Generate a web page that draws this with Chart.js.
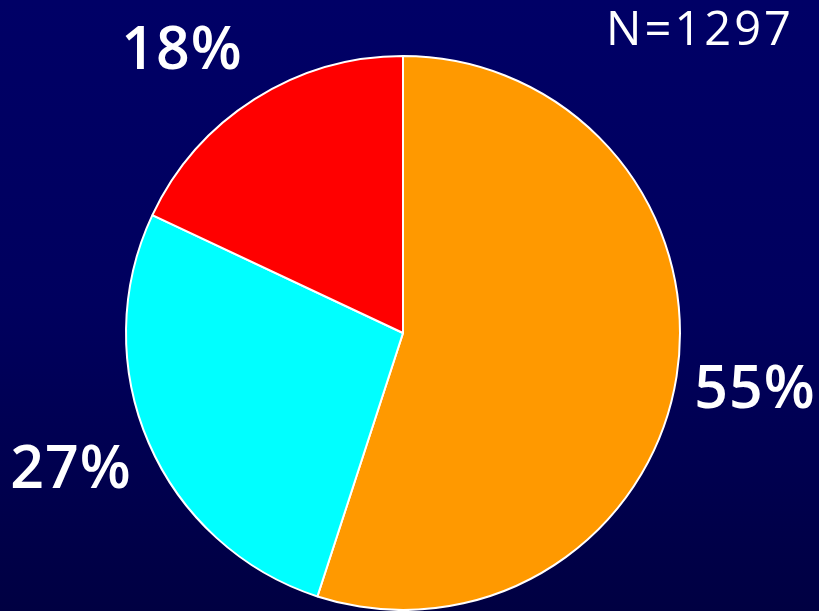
<!DOCTYPE html>
<html lang="en">
<head>
    <meta charset="UTF-8">
    <title>N=1297</title>
    <script src="https://cdn.jsdelivr.net/npm/chart.js"></script>
    <style>
        html, body { margin: 0; padding: 0; }
        body {
            width: 819px; height: 611px; overflow: hidden;
            background: linear-gradient(to bottom, #000066 0%, #00005e 50%, #000042 100%);
        }
        #wrap { position: relative; width: 819px; height: 611px; }
    </style>
</head>
<body>
    <div id="wrap">
        <canvas id="pieChart" width="819" height="611"></canvas>
    </div>

    <script>
        const categories = ['A', 'B', 'C'];
        const values = [55, 27, 18];
        const sliceLabels = ['55%', '27%', '18%'];
        const sliceColors = ['#ff9900', '#00ffff', '#ff0000'];
        const totalLabel = 'N=1297';

        // Etiquetas de porcentaje (posición fija del texto, como en la diapositiva)
        const labelSpots = [[755, 391], [71, 471], [182, 52]];

        const outerLabels = {
            id: 'outerLabels',
            afterDraw(chart) {
                const ctx = chart.ctx;
                ctx.save();
                ctx.fillStyle = '#ffffff';
                ctx.textAlign = 'center';
                ctx.textBaseline = 'middle';
                ctx.font = '600 59px "Open Sans"';
                ctx.letterSpacing = '1px';
                sliceLabels.forEach((txt, i) => {
                    ctx.fillText(txt, labelSpots[i][0], labelSpots[i][1]);
                });
                ctx.font = '400 47px "Open Sans"';
                ctx.letterSpacing = '3px';
                ctx.fillText(totalLabel, 700, 32);
                ctx.restore();
            }
        };

        new Chart(document.getElementById('pieChart').getContext('2d'), {
            type: 'pie',
            data: {
                labels: categories,
                datasets: [{
                    data: values,
                    backgroundColor: sliceColors,
                    borderColor: '#ffffff',
                    borderWidth: 2
                }]
            },
            options: {
                responsive: false,
                animation: false,
                layout: { padding: { top: 55, bottom: 0, left: 0, right: 13 } },
                plugins: {
                    legend: { display: false },
                    tooltip: { enabled: false }
                }
            },
            plugins: [outerLabels]
        });
    </script>
</body>
</html>
